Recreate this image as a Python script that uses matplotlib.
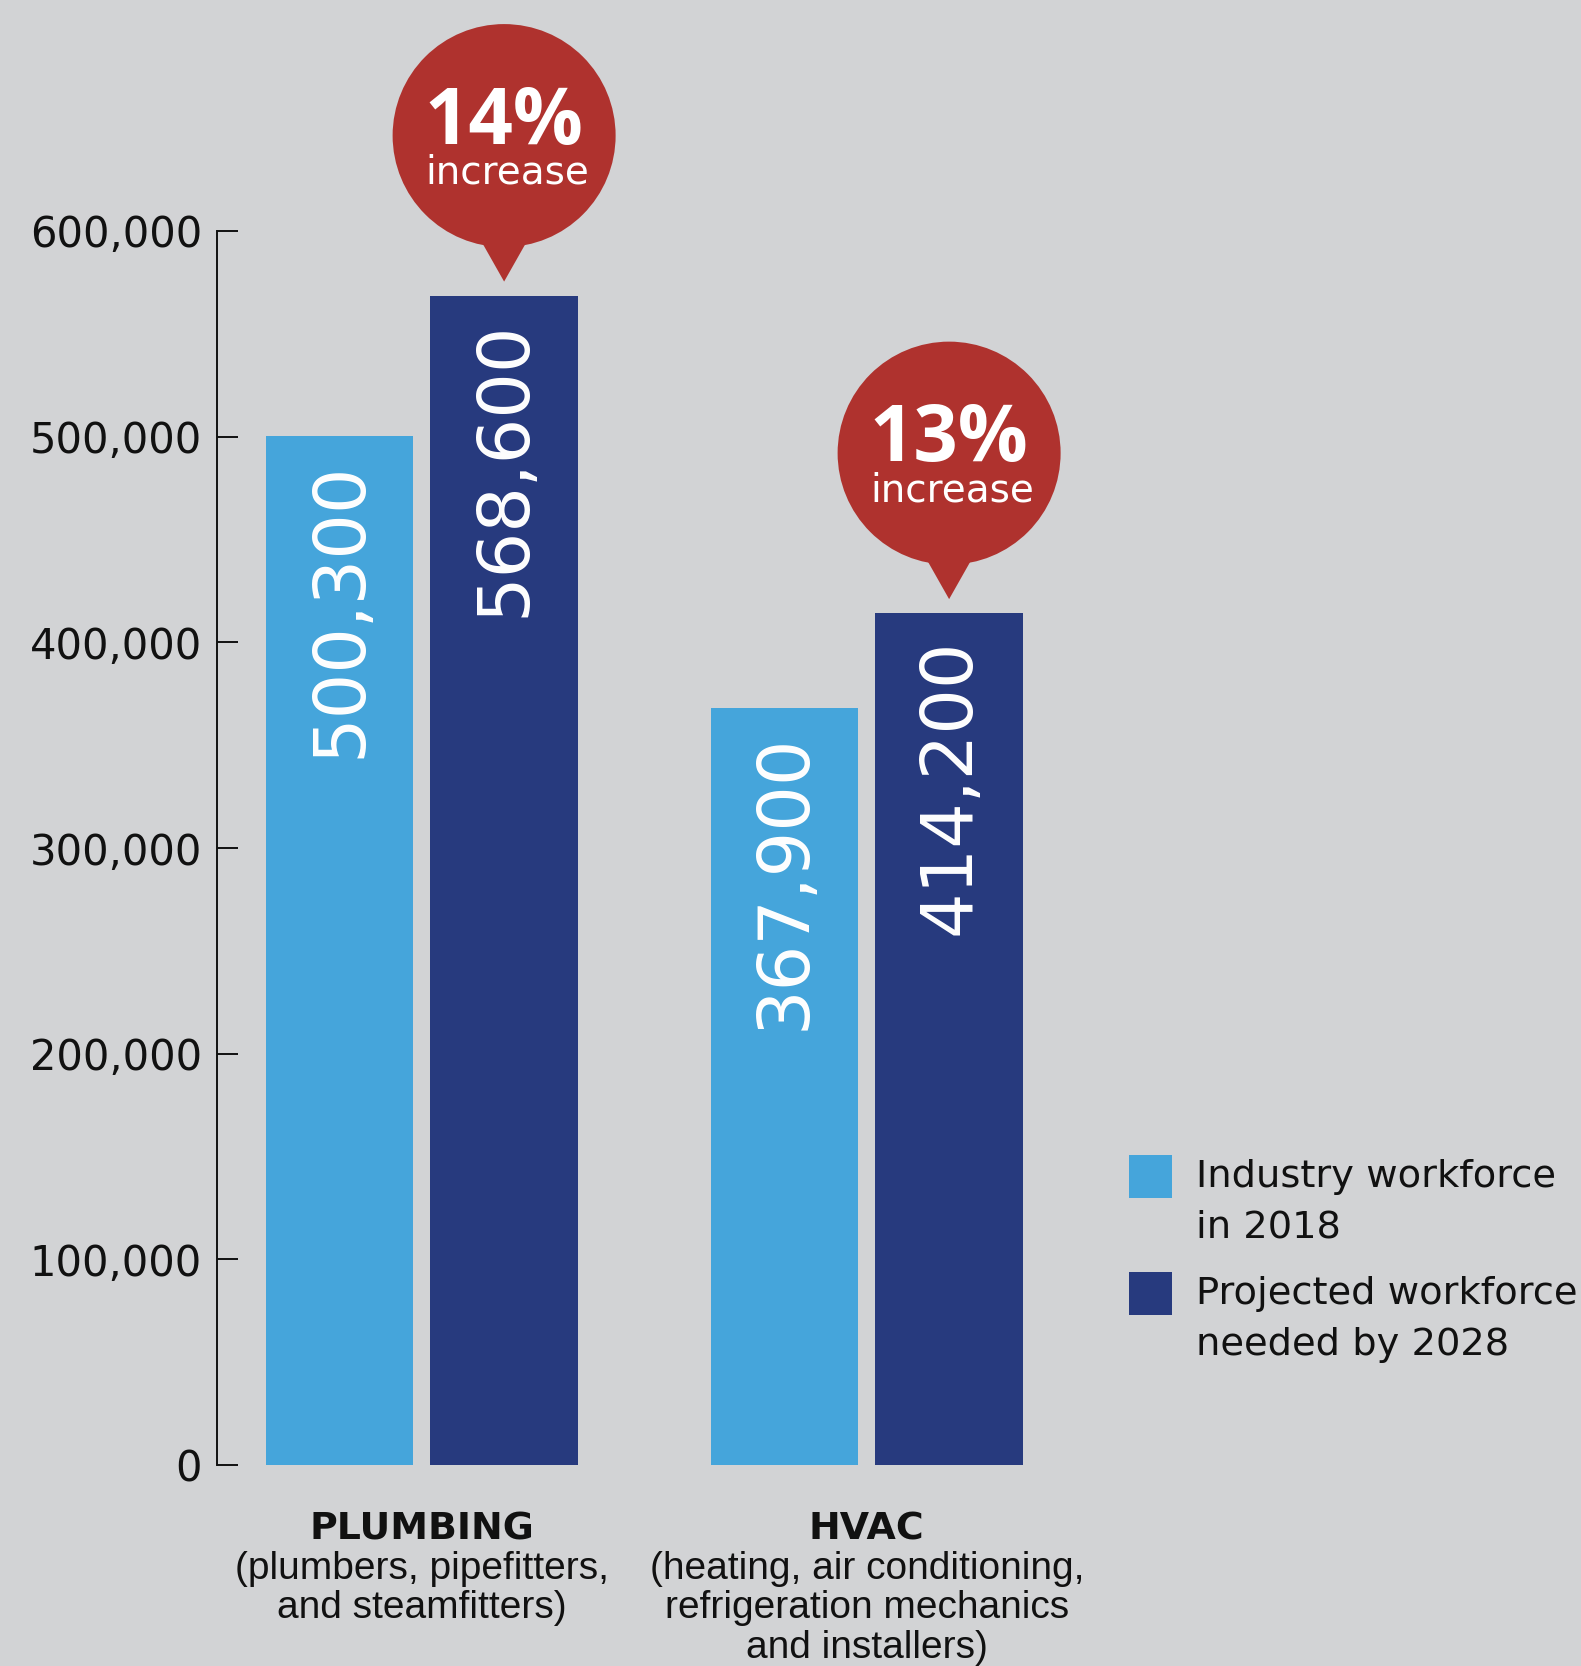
import matplotlib.pyplot as plt
from matplotlib import transforms as mtransforms
from matplotlib.patches import Circle, Polygon, Rectangle

# chart data
categories = ['PLUMBING', 'HVAC']
details = [['(plumbers, pipefitters,', 'and steamfitters)'],
           ['(heating, air conditioning,', 'refrigeration mechanics', 'and installers)']]
workforce_2018 = [500300, 367900]
workforce_2028 = [568600, 414200]
increase = ['14%', '13%']
series_names = [['Industry workforce', 'in 2018'],
                ['Projected workforce', 'needed by 2028']]
yticks = [0, 100000, 200000, 300000, 400000, 500000, 600000]

# colours
bg = '#D2D3D5'
light = '#45A5DB'
navy = '#273A7E'
red = '#AF322E'
ink = '#111111'

W, H = 1581, 1666


def fx(x):
    return x / W


def fy(y):
    return 1 - y / H


fig = plt.figure(figsize=(W / 100, H / 100), dpi=100, facecolor=bg)
ax = fig.add_axes([fx(217), fy(1465), (1100 - 217) / W, (1465 - 231) / H])
ax.set_facecolor('none')

pos = [0, 1]
off = 0.185
width = 0.332
x1 = [p - off for p in pos]
x2 = [p + off for p in pos]
ax.bar(x1, workforce_2018, width, color=light, linewidth=0)
ax.bar(x2, workforce_2028, width, color=navy, linewidth=0)

ax.set_xlim(-0.4602, -0.4602 + 883 / 445)
ax.set_ylim(0, 600000)

for s in ['top', 'right', 'bottom']:
    ax.spines[s].set_visible(False)
ax.spines['left'].set_linewidth(1.4)
ax.spines['left'].set_color(ink)
ax.set_yticks(yticks)
ax.set_yticklabels([f'{v:,}' for v in yticks])
ax.tick_params(axis='y', direction='in', length=15, width=1.4, pad=10.8,
               labelsize=30, colors=ink)
ax.tick_params(axis='x', bottom=False, labelbottom=False)

# values written inside the bars
for xs, vals in [(x1, workforce_2018), (x2, workforce_2028)]:
    for xc, v in zip(xs, vals):
        ax.annotate(f'{v:,}', xy=(xc, v), xytext=(1, -25), textcoords='offset pixels',
                    rotation=90, ha='center', va='top', color='white', fontsize=51.7)

# speech bubbles above the projected bars (drawn behind the axes layer)
for xc, v, lab in zip(x2, workforce_2028, increase):
    trans = mtransforms.ScaledTranslation(xc, v, ax.transData)
    fig.add_artist(Circle((0, 160), 111.5, transform=trans, color=red, lw=0, zorder=-1))
    fig.add_artist(Polygon([(-21.5, 52), (21.5, 52), (0, 14)], closed=True,
                           transform=trans, color=red, lw=0, zorder=-1))
    ax.annotate(lab, xy=(xc, v), xytext=(0, 152), textcoords='offset pixels',
                ha='center', va='baseline', color='white', fontsize=56,
                fontweight='bold', family='Open Sans', annotation_clip=False)
    ax.annotate('increase', xy=(xc, v), xytext=(3, 112), textcoords='offset pixels',
                ha='center', va='baseline', color='white', fontsize=28,
                annotation_clip=False)

# category labels
for p, cat, lines in zip(pos, categories, details):
    ax.annotate(cat, xy=(p, 0), xytext=(0, -74), textcoords='offset pixels',
                ha='center', va='baseline', fontsize=27.3, fontweight='bold',
                color=ink, annotation_clip=False)
    for k, line in enumerate(lines):
        ax.annotate(line, xy=(p, 0), xytext=(0, -114 - 39.5 * k), textcoords='offset pixels',
                    ha='center', va='baseline', fontsize=28, family='Liberation Sans',
                    color=ink, annotation_clip=False)

# legend
for k, (name, col) in enumerate(zip(series_names, [light, navy])):
    top = 1155 + 117 * k
    fig.add_artist(Rectangle((fx(1129), fy(top + 43)), 43 / W, 43 / H,
                             transform=fig.transFigure, color=col, lw=0))
    for j, line in enumerate(name):
        fig.text(fx(1196), fy(top + 32 + 51 * j), line, fontsize=27.6,
                 va='baseline', ha='left', color=ink)

fig.savefig('out.png', dpi=100, facecolor=bg)
